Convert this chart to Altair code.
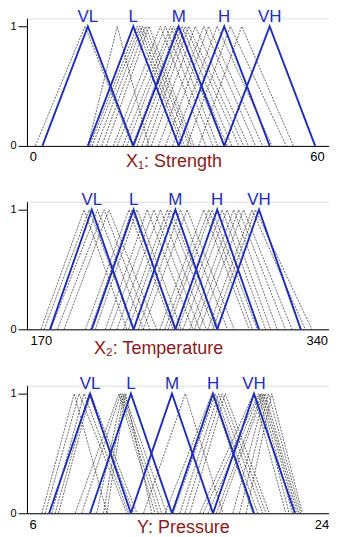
import altair as alt
import pandas as pd

labels = ["VL", "L", "M", "H", "VH"]

# ---- Panel 1: X1 Strength ----
x1_blue = [2.0, 11.6, 21.2, 30.8, 40.4, 50.0, 59.6]
x1_left = [0.5, 11.6, 12.0, 12.5, 13.5, 14.5, 15.5, 17.0, 17.8, 19.0, 19.8, 21.0, 22.0, 23.0, 24.0, 25.0, 26.5, 28.0, 29.5, 32.5, 35.0]
x1_peak = [11.0, 17.8, 22.0, 22.6, 23.1, 23.8, 24.5, 26.9, 28.0, 29.1, 29.7, 30.5, 31.5, 32.2, 32.9, 34.3, 36.1, 37.1, 38.9, 41.7, 44.1]
x1_right = [21.0, 24.5, 31.5, 32.0, 33.0, 33.5, 34.0, 36.5, 38.0, 39.0, 40.5, 41.0, 42.0, 43.5, 44.5, 45.5, 47.0, 48.5, 50.5, 53.5, 55.0]

# ---- Panel 2: X2 Temperature ----
x2_blue = [175.5, 200.8, 226.1, 251.4, 276.7, 302.0, 327.3]
x2_left = [170, 172, 176, 180, 184, 197, 200, 203, 209, 212, 216, 220, 223, 229, 232, 242, 245, 247, 253, 256, 260, 263, 266, 271, 274]
x2_peak = [196.1, 199.2, 204.2, 208.2, 211.2, 223.3, 225.3, 228.3, 234.4, 238.4, 242.4, 246.5, 248.5, 254.5, 258.5, 268.6, 271.6, 273.6, 279.7, 282.7, 286.7, 289.7, 292.7, 297.8, 299.8]
x2_right = [222, 226, 232, 236, 240, 250, 252, 255, 262, 266, 270, 275, 278, 283, 287, 296, 298, 301, 306, 309, 313, 318, 322, 330, 334]

# ---- Panel 3: Y Pressure ----
y_blue = [7.0, 9.47, 11.94, 14.42, 16.9, 19.38, 21.85]
y_left = [6.56, 6.76, 7.16, 7.36, 7.56, 8.57, 8.97, 9.87, 10.28, 10.48, 12.7, 14.0, 14.5, 14.9, 15.2, 15.5, 16.1, 16.3, 16.6, 17.1, 17.3, 18.1, 18.5, 18.9]
y_peak = [8.51, 8.81, 9.11, 9.41, 9.5, 11.22, 11.32, 11.42, 11.52, 11.62, 15.23, 16.84, 17.04, 17.24, 17.44, 17.64, 19.35, 19.65, 19.75, 19.85, 19.95, 20.05, 20.25, 20.45]
y_right = [10.5, 11.7, 11.8, 12.1, 12.3, 13.4, 13.6, 13.8, 14.1, 13.2, 17.5, 19.3, 19.6, 19.9, 20.1, 20.3, 21.3, 21.5, 21.7, 21.9, 22.0, 22.1, 22.2, 22.3]

BLUE = "#1f2db8"
RED = "#8b1a1a"
FONT = "Liberation Sans"


def tri_frame(lefts, peaks, rights):
    rows = []
    for i, (a, b, c) in enumerate(zip(lefts, peaks, rights)):
        rows += [
            {"tri": i, "k": 0, "x": a, "y": 0.0},
            {"tri": i, "k": 1, "x": b, "y": 1.0},
            {"tri": i, "k": 2, "x": c, "y": 0.0},
        ]
    return pd.DataFrame(rows)


def panel(blue, lefts, peaks, rights, domain, ticks, title, title_x, title_y, last_shift):
    xscale = alt.Scale(domain=domain, nice=False, zero=False)
    yscale = alt.Scale(domain=[0, 1.067], nice=False)
    xaxis = alt.Axis(values=ticks, ticks=False, grid=False, labelFontSize=13, labelFont=FONT,
                     labelColor="black", labelPadding=5, labelFlush=False, domainColor="black",
                     labelOffset={"condition": {"test": f"datum.value == {ticks[-1]}", "value": last_shift},
                                  "value": 0},
                     title=title, titleFont=FONT, titleFontSize=18, titleFontWeight="normal",
                     titleColor=RED, titleX=title_x, titleY=title_y, titleAlign="center",
                     titleBaseline="alphabetic", titleAnchor="start")
    yaxis = alt.Axis(values=[0, 1], tickSize=9, tickColor="black", grid=False, labelFontSize=11,
                     labelFont=FONT, labelColor="black", labelPadding=2, domainColor="black",
                     title=None, minExtent=18, maxExtent=18, format="d")
    black_df = tri_frame(lefts, peaks, rights)
    blue_df = tri_frame(blue[:-2], blue[1:-1], blue[2:])
    lab_df = pd.DataFrame({"x": blue[1:-1], "lab": labels})
    black = alt.Chart(black_df).mark_line(color="#2a2a2a", strokeWidth=0.7, strokeDash=[2, 1.2]).encode(
        x=alt.X("x:Q", scale=xscale, axis=xaxis),
        y=alt.Y("y:Q", scale=yscale, axis=yaxis),
        detail="tri:N", order="k:O")
    bl = alt.Chart(blue_df).mark_line(color=BLUE, strokeWidth=1.9).encode(
        x=alt.X("x:Q", scale=xscale), y=alt.Y("y:Q", scale=yscale), detail="tri:N", order="k:O")
    txt = alt.Chart(lab_df).mark_text(color=BLUE, font=FONT, fontSize=17, baseline="alphabetic",
                                      align="center").encode(
        x=alt.X("x:Q", scale=xscale), y=alt.value(3.5), text="lab:N")
    return alt.layer(black, bl, txt).properties(width=307, height=128)


p1 = panel(x1_blue, x1_left, x1_peak, x1_right, [-1.263, 63.37], [0, 60], "X₁: Strength", 147, 21, 0)
p2 = panel(x2_blue, x2_left, x2_peak, x2_right, [161.55, 346.8], [170, 340], "X₂: Temperature", 131.5, 24, -5)
p3 = panel(y_blue, y_left, y_peak, y_right, [5.657, 24.15], [6, 24], "Y: Pressure", 156.5, 19.5, -9)

top_pair = alt.vconcat(p1, p2, spacing=19)
chart = alt.vconcat(top_pair, p3, spacing=16.5).properties(
    padding={"left": 0, "top": -1.5, "right": -5, "bottom": 0}
).configure_view(stroke=None).configure(background="white")

chart.save("out.html", embed_options={"renderer": "svg", "actions": False})
